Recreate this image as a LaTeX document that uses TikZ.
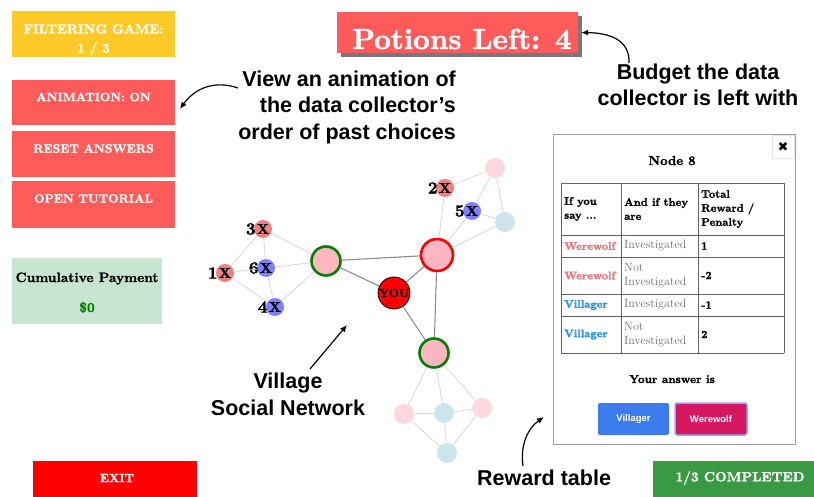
\documentclass[tikz,border=0pt]{standalone}
\usepackage{fontspec}
\newfontfamily\notefont{Liberation Sans}
\newfontfamily\iconfont{DejaVu Sans}
\newfontfamily\uifont[FakeBold=1.5]{lmroman10-bold.otf}
\usetikzlibrary{arrows.meta, positioning, calc, shadows}

\definecolor{colGold}{RGB}{255,202,40}
\definecolor{colBtn}{RGB}{255,91,91}
\definecolor{colPay}{RGB}{200,230,207}
\definecolor{colMoney}{RGB}{0,128,0}
\definecolor{colExit}{RGB}{255,0,0}
\definecolor{colDone}{RGB}{58,154,68}
\definecolor{colShadow}{RGB}{120,120,120}
\definecolor{colHub}{RGB}{255,182,193}
\definecolor{colRing}{RGB}{0,128,0}
\definecolor{colWolfX}{RGB}{240,128,128}
\definecolor{colVillX}{RGB}{128,128,255}
\definecolor{colFadeP}{RGB}{255,215,222}
\definecolor{colFadeB}{RGB}{204,229,236}
\definecolor{colEdge}{RGB}{215,215,215}
\definecolor{colLink}{RGB}{140,140,140}
\definecolor{colFrame}{RGB}{160,160,160}
\definecolor{colGrid}{RGB}{100,100,100}
\definecolor{colClose}{RGB}{230,230,230}
\definecolor{colSayW}{RGB}{240,110,120}
\definecolor{colSayV}{RGB}{30,144,255}
\definecolor{colAre}{RGB}{110,110,110}
\definecolor{colVBtn}{RGB}{59,125,237}
\definecolor{colWBtn}{RGB}{214,24,96}
\definecolor{colFocus}{RGB}{140,175,240}

\tikzset{
  btntext/.style={text=white, inner sep=0pt, font=\uifont\fontsize{12}{14}\selectfont},
  note/.style={inner sep=0pt, font=\notefont\fontsize{21.5}{26}\selectfont\bfseries},
  callout/.style={-{Latex[length=7pt,width=6pt]}, line width=1.2pt},
  hub/.style={circle, fill=colHub, line width=2.6pt, minimum size=29pt, inner sep=0pt},
  xnode/.style={circle, minimum size=18pt, inner sep=0pt, font=\uifont\fontsize{14}{14}\selectfont},
  fade/.style={circle, minimum size=20pt, inner sep=0pt},
  numlbl/.style={inner sep=0pt, anchor=east, font=\uifont\fontsize{17}{17}\selectfont},
  edge/.style={colEdge, line width=0.8pt},
  link/.style={colLink, line width=1.1pt},
  cell/.style={inner sep=0pt, anchor=west, align=left, font=\uifont\fontsize{11}{14}\selectfont},
  answerbtn/.style={rounded corners=2pt, minimum width=71pt, minimum height=32pt, text=white,
    font=\notefont\fontsize{9.5}{11}\selectfont\bfseries},
}

\begin{document}
\begin{tikzpicture}[x=1pt, y=-1pt]
    \useasboundingbox (0,0) rectangle (814,497);

    % --- Menu kiri ---
    \fill[colGold] (12,11) rectangle (175,57);
    \node[btntext, align=center, font=\uifont\fontsize{13}{19}\selectfont] (game) at (93.5,40) {FILTERING GAME:\\1 / 3};
    \fill[colBtn] (12,80) rectangle (175,125);
    \node[btntext] (anim) at (93.5,97) {ANIMATION: ON};
    \fill[colBtn] (12,131) rectangle (175,177);
    \node[btntext] (reset) at (93.5,148.5) {RESET ANSWERS};
    \fill[colBtn] (12,181) rectangle (175,228);
    \node[btntext] (tutorial) at (93.5,198.5) {OPEN TUTORIAL};

    % Kotak pembayaran
    \fill[colPay] (12,258) rectangle (162,324);
    \node[anchor=base, inner sep=0pt, font=\uifont\fontsize{13.5}{15}\selectfont] (pay) at (87,282) {Cumulative Payment};
    \node[anchor=base, inner sep=0pt, text=colMoney, font=\uifont\fontsize{13.5}{15}\selectfont] (money) at (87,312) {\$0};

    % --- Tombol bawah ---
    \fill[colExit] (33,461) rectangle (197,497);
    \node[btntext] (exit) at (117,478) {EXIT};
    \fill[colDone] (653,461) rectangle (814,497);
    \node[btntext, font=\uifont\fontsize{13.5}{15}\selectfont] (done) at (740,478) {1/3 COMPLETED};

    % --- Sisa ramuan ---
    \node[fill=colBtn, minimum width=241pt, minimum height=41pt, inner sep=0pt,
          drop shadow={shadow xshift=4pt, shadow yshift=-4pt, fill=colShadow, opacity=1}] (potions) at (457.5,32.5) {};
    \node[anchor=base, inner sep=0pt, text=white, font=\uifont\fontsize{29}{30}\selectfont] (potionstxt) at (462,49) {Potions Left: 4};

    % --- Keterangan ---
    \node[note, anchor=base east] (anim1) at (456,87) {View an animation of};
    \node[note, anchor=base east] (anim2) at (456,113) {the data collector’s};
    \node[note, anchor=base east] (anim3) at (456,140) {order of past choices};
    \node[note, anchor=base] (budget1) at (698,80) {Budget the data};
    \node[note, anchor=base] (budget2) at (698,106) {collector is left with};
    \node[note, anchor=base] (village1) at (288,388) {Village};
    \node[note, anchor=base] (village2) at (288,415) {Social Network};
    \node[note, anchor=base west] (reward) at (477,485) {Reward table};

    \coordinate (animfrom) at (238,88);
    \coordinate (animto) at (180,109);
    \coordinate (budgetfrom) at (629,63);
    \coordinate (villfrom) at (310,369);
    \coordinate (villto) at (347,325);
    \coordinate (rewardfrom) at (523,466);
    \coordinate (rewardto) at (544,417);
    \draw[callout] (animfrom) .. controls (215,80) and (195,88) .. (animto);
    \draw[callout] (budgetfrom) .. controls (630,40) and (610,33) .. ([xshift=3pt]potions.east);
    \draw[callout] (villfrom) -- (villto);
    \draw[callout] (rewardfrom) .. controls (520,445) and (528,428) .. (rewardto);

    % --- Jaringan desa ---
    \node[hub, draw=colRing] (hubL) at (326,261) {};
    \node[hub, draw=red, minimum size=32pt] (hubR) at (437,255) {};
    \node[hub, draw=colRing] (hubB) at (434,353) {};
    \node[circle, fill=red, draw=black, line width=0.8pt, minimum size=32pt, inner sep=0pt,
          font=\uifont\fontsize{11.5}{12}\selectfont] (you) at (394,293) {YOU};

    \node[xnode, fill=colWolfX] (n1) at (225,273) {X};
    \node[xnode, fill=colWolfX] (n3) at (263,229) {X};
    \node[xnode, fill=colVillX] (n6) at (266,268) {X};
    \node[xnode, fill=colVillX] (n4) at (275,307) {X};
    \node[xnode, fill=colWolfX] (n2) at (445,188) {X};
    \node[xnode, fill=colVillX] (n5) at (472,211) {X};
    \foreach \n in {1,...,6}
        \node[numlbl] (l\n) at ([xshift=2pt]n\n.west) {\n};

    \node[fade, fill=colFadeP] (f1) at (495,168) {};
    \node[fade, fill=colFadeB] (f2) at (505,222) {};
    \node[fade, fill=colFadeP] (f3) at (404,414) {};
    \node[fade, fill=colFadeB] (f4) at (444,413) {};
    \node[fade, fill=colFadeP] (f5) at (482,408) {};
    \node[fade, fill=colFadeB] (f6) at (447,453) {};

    \foreach \a/\b in {n3/n1, n3/n6, n3/hubL, n1/n6, n1/n4, n6/n4, n6/hubL, n4/hubL,
                       hubR/n2, hubR/n5, hubR/f2, n2/f1, n5/f1, n5/f2, f1/f2,
                       hubB/f3, hubB/f4, hubB/f5, f3/f4, f4/f5, f3/f6, f4/f6, f5/f6}
        \draw[edge] (\a) -- (\b);
    \foreach \a/\b in {hubL/hubR, hubL/you, you/hubR, you/hubB, hubR/hubB}
        \draw[link] (\a) -- (\b);

    % --- Tabel hadiah ---
    \draw[colFrame, line width=1pt, fill=white] (553,135) rectangle (795,444);
    \draw[colClose] (772,135) rectangle (794,158);
    \node[inner sep=0pt, font=\iconfont\fontsize{13}{13}\selectfont] (close) at (783,147) {✖};
    \node[anchor=base, inner sep=0pt, font=\uifont\fontsize{13}{15}\selectfont] (title) at (672,165) {Node 8};

    \foreach \y in {183,235,257,294,316,353} \draw[colGrid, line width=0.6pt] (561,\y) -- (784,\y);
    \foreach \x in {561,621,698,784} \draw[colGrid, line width=0.6pt] (\x,183) -- (\x,353);

    \node[cell] (h1) at (564,209) {If you\\say ...};
    \node[cell] (h2) at (624,209) {And if they\\are};
    \node[cell] (h3) at (701,209) {Total\\Reward /\\Penalty};
    \foreach \i/\y/\col/\say/\are/\pen in {1/246/colSayW/Werewolf/Investigated/1,
                                           2/275.5/colSayW/Werewolf/{Not\\Investigated}/-2,
                                           3/305/colSayV/Villager/Investigated/-1,
                                           4/334.5/colSayV/Villager/{Not\\Investigated}/2} {
        \node[cell, text=\col] (say\i) at (564,\y) {\say};
        \node[cell, text=colAre, font=\fontsize{12}{14}\selectfont] (are\i) at (624,\y) {\are};
        \node[cell] (pen\i) at (701,\y) {\pen};
    }

    \node[anchor=base, inner sep=0pt, font=\uifont\fontsize{11.5}{13}\selectfont] (question) at (672,383) {Your answer is};
    \node[answerbtn, fill=colVBtn] (vbtn) at (633.5,419) {Villager};
    \node[answerbtn, fill=colWBtn, draw=colFocus, line width=1.5pt, minimum width=72pt] (wbtn) at (711,419) {Werewolf};
\end{tikzpicture}
\end{document}
